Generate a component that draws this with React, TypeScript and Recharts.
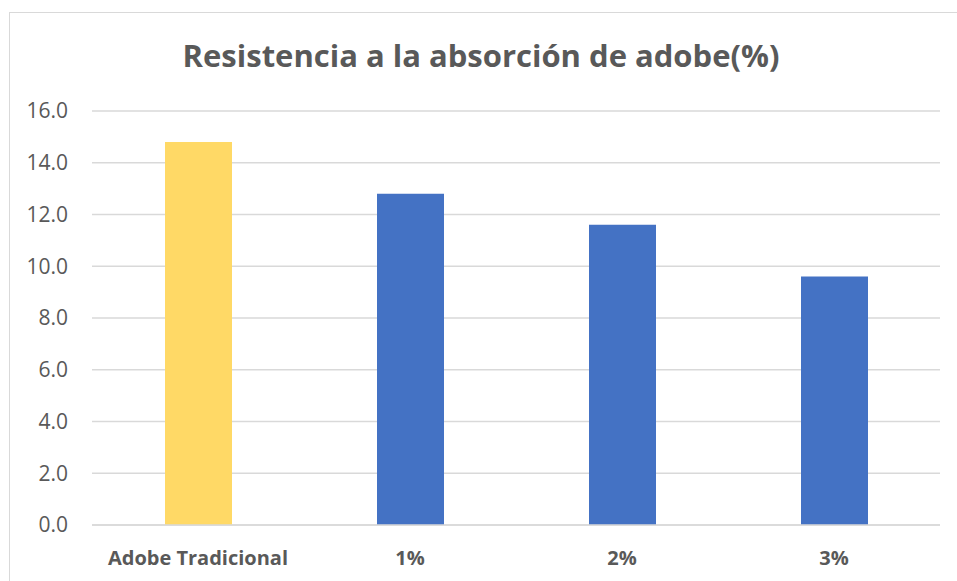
import { BarChart, Bar, XAxis, YAxis, CartesianGrid, Cell } from "recharts";

const categories = ["Adobe Tradicional", "1%", "2%", "3%"];
const values = [14.8, 12.8, 11.6, 9.6];
const barColors = ["#FFD966", "#4472C4", "#4472C4", "#4472C4"];
const yTicks = [0, 2, 4, 6, 8, 10, 12, 14, 16];

const data = categories.map((name, i) => ({ name, value: values[i] }));

const font = "'Open Sans', Lato, sans-serif";

export default function App() {
  return (
    <div style={{ position: "absolute", left: 0, top: 0, width: 957, height: 581, background: "#fff", overflow: "hidden", fontFamily: font }}>
      <div style={{ position: "absolute", left: 9, top: 12, width: 980, height: 600, border: "1px solid #d9d9d9", boxSizing: "border-box" }} />
      <div style={{ position: "absolute", left: 0, top: 34, width: 962, textAlign: "center", fontSize: 31, fontWeight: 700, color: "#595959" }}>
        Resistencia a la absorción de adobe(%)
      </div>
      <div style={{ position: "absolute", left: 0, top: 0 }}>
        <BarChart width={957} height={581} data={data} margin={{ top: 111, right: 17, bottom: 0, left: 0 }}>
          <CartesianGrid vertical={false} stroke="#d9d9d9" strokeWidth={1.5} />
          <XAxis
            dataKey="name"
            height={56}
            tickSize={0}
            tickMargin={26}
            axisLine={{ stroke: "#d9d9d9", strokeWidth: 1.5 }}
            tick={{ fill: "#595959", fontSize: 20, fontWeight: 700, fontFamily: font }}
          />
          <YAxis
            width={92}
            domain={[0, 16]}
            ticks={yTicks}
            tickFormatter={(v: number) => v.toFixed(1)}
            axisLine={false}
            tickSize={0}
            tickMargin={24}
            tick={{ fill: "#595959", fontSize: 21, fontFamily: font }}
          />
          <Bar dataKey="value" barSize={67} isAnimationActive={false}>
            {data.map((d, i) => (
              <Cell key={d.name} fill={barColors[i]} />
            ))}
          </Bar>
        </BarChart>
      </div>
    </div>
  );
}
